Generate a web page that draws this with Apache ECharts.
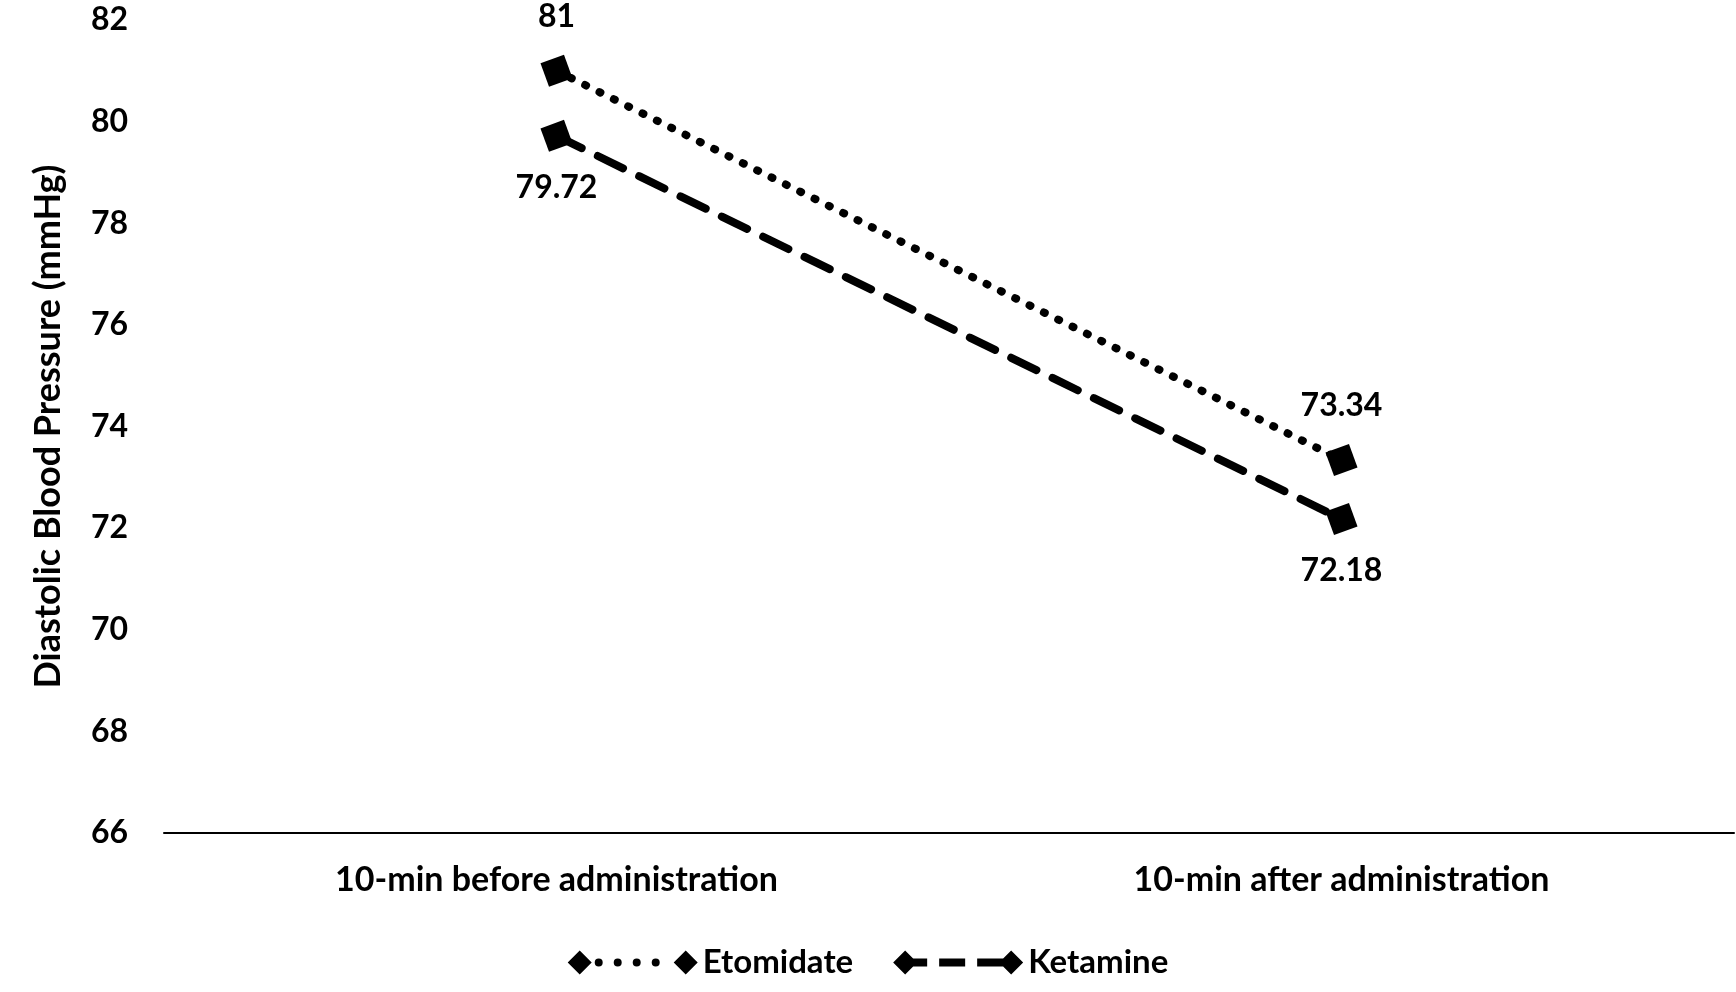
<!DOCTYPE html>
<html>
<head>
<meta charset="utf-8">
<script src="https://cdn.jsdelivr.net/npm/echarts@6/dist/echarts.min.js"></script>
<style>
  html, body { margin: 0; padding: 0; background: #fff; }
  #chart { width: 1736px; height: 992px; }
</style>
</head>
<body>
<div id="chart"></div>
<script>
const categories = ["10-min before administration", "10-min after administration"];
const etomidate = [81, 73.34];
const ketamine = [79.72, 72.18];
const yTicks = { min: 66, max: 82, interval: 2 };

const font = "Lato";
const weight = "bold";
const chart = echarts.init(document.getElementById("chart"));

// Excel-style legend keys: marker, line pattern, marker (130 x 24 box)
const diamond = (cx) => `M${cx - 12} 12 L${cx} 0 L${cx + 12} 12 L${cx} 24 Z `;
const dot = (cx) => `M${cx - 4} 12 A4 4 0 1 0 ${cx + 4} 12 A4 4 0 1 0 ${cx - 4} 12 Z `;
const bar = (x0, x1) => `M${x0} 8 L${x1} 8 L${x1} 16 L${x0} 16 Z `;
const dottedKey = "path://" + diamond(12) + dot(31) + dot(50) + dot(69) + dot(88) + diamond(118);
const dashedKey = "path://" + diamond(12) + bar(20, 34) + bar(46, 72) + bar(84, 110) + diamond(118);

chart.setOption({
  backgroundColor: "#fff",
  textStyle: { fontFamily: font, fontWeight: weight, color: "#000" },
  grid: { left: 164, right: 2, top: 20, bottom: 159 },
  legend: {
    bottom: 8,
    left: "center",
    itemWidth: 130,
    itemHeight: 24,
    itemGap: 40,
    textStyle: { fontFamily: font, fontWeight: weight, fontSize: 33, color: "#000" },
    data: [
      { name: "Etomidate", icon: dottedKey },
      { name: "Ketamine", icon: dashedKey },
    ],
  },
  xAxis: {
    type: "category",
    data: categories,
    boundaryGap: true,
    axisLine: { lineStyle: { color: "#000", width: 2 } },
    axisTick: { show: false },
    axisLabel: { fontFamily: font, fontWeight: weight, fontSize: 34, color: "#000", margin: 30 },
  },
  yAxis: {
    type: "value",
    min: yTicks.min,
    max: yTicks.max,
    interval: yTicks.interval,
    name: "Diastolic Blood Pressure (mmHg)",
    nameLocation: "middle",
    nameGap: 98,
    nameTextStyle: { fontFamily: font, fontWeight: weight, fontSize: 36, color: "#000" },
    axisLine: { show: false },
    axisTick: { show: false },
    splitLine: { show: false },
    axisLabel: { fontFamily: font, fontWeight: weight, fontSize: 32, color: "#000", margin: 36 },
  },
  series: [
    {
      name: "Etomidate",
      type: "line",
      data: etomidate,
      symbol: "rect",
      symbolSize: 25,
      symbolRotate: 20,
      itemStyle: { color: "#000" },
      lineStyle: { color: "#000", width: 8, type: [1, 15], cap: "round" },
      label: {
        show: true,
        position: "top",
        distance: 22,
        fontFamily: font,
        fontWeight: weight,
        fontSize: 32,
        color: "#000",
      },
    },
    {
      name: "Ketamine",
      type: "line",
      data: ketamine,
      symbol: "rect",
      symbolSize: 25,
      symbolRotate: 20,
      itemStyle: { color: "#000" },
      lineStyle: { color: "#000", width: 8, type: [28, 18], cap: "round" },
      label: {
        show: true,
        position: "bottom",
        distance: 20,
        fontFamily: font,
        fontWeight: weight,
        fontSize: 32,
        color: "#000",
      },
    },
  ],
});

window.onresize = function () {
  chart.resize();
};
</script>
</body>
</html>
